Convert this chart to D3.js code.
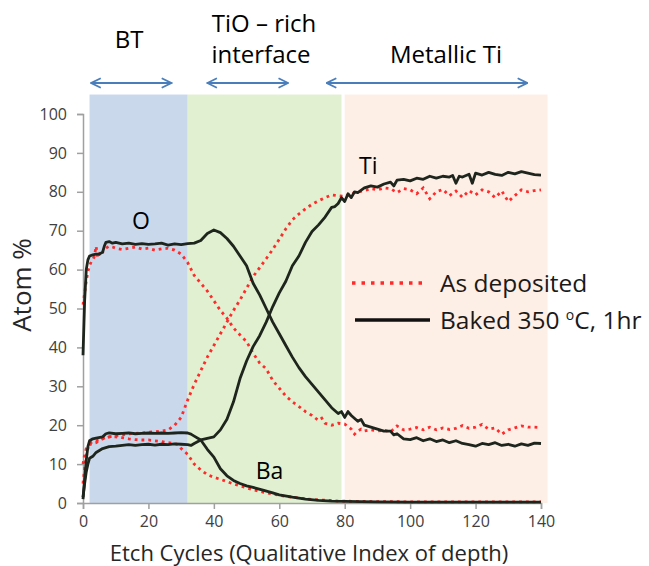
<!DOCTYPE html>
<html lang="en">
<head>
  <meta charset="UTF-8">
  <title>Atom % vs Etch Cycles</title>
  <script src="https://d3js.org/d3.v7.min.js"></script>
  <style>
    body { margin: 0; background: #fff; }
    text { font-family: "Open Sans", sans-serif; }
  </style>
</head>
<body>
<svg id="chart" width="649" height="566"></svg>

<script>
// depth regions (etch cycles) and their labels
const regions = [
  { from: 2, to: 32, color: "#cad8ec" },
  { from: 32, to: 79, color: "#e0f0d0" },
  { from: 80, to: 142, color: "#fdeee6" }
];
const regionArrows = [[2.5, 27], [38, 62.7], [74.5, 135.8]];

const xTicks = [0, 20, 40, 60, 80, 100, 120, 140];
const yTicks = [0, 10, 20, 30, 40, 50, 60, 70, 80, 90, 100];

// Baked 350 °C, 1hr (solid black)
const bakedO = [[0,38],[0.5,52],[1,60],[1.5,62.5],[2,63.5],[3,63.8],[4,64],[5,64],[6,64.5],[6.5,66],[7,67],[8,67.2],[9,66.8],[10,67],[12,66.6],[14,66.8],[16,66.5],[18,66.7],[20,66.5],[22,66.6],[24,66.8],[26,66.3],[28,66.6],[30,66.4],[32,66.7],[34,66.8],[36,67.5],[38,69.3],[40,70.2],[42,69.5],[44,68],[46,66],[48,63.5],[50,61],[52,56.5],[54,53.5],[56,50],[58,46.5],[60,43.5],[62,40.5],[64,37.5],[66,34.8],[68,32.5],[70,30.5],[72,28.5],[74,26.5],[76,24.5],[78,23],[79,23.5],[80,22],[81,23.5],[82,22.5],[84,21],[85,21.5],[86,20],[88,19.5],[90,19],[92,18.5],[94,18.5],[95,17.5],[96,17.8],[98,16.5],[100,16.3],[102,16.8],[104,16],[106,16.5],[108,15.8],[110,16.2],[112,15.5],[114,16],[116,15.3],[118,15],[120,14.6],[122,15.3],[124,15],[126,15.5],[128,14.8],[130,15.1],[132,14.6],[134,15.2],[136,14.8],[138,15.4],[140,15.3]];
const bakedTi = [[0,1.5],[0.5,5],[1,8],[1.5,10],[2,11.5],[3,12],[4,13],[6,14],[8,14.5],[10,14.6],[12,14.8],[14,15],[16,14.8],[18,15],[20,15.1],[22,14.9],[24,15.1],[26,15],[28,15.2],[30,15.1],[32,15],[33,14.8],[34,15.3],[36,16.2],[38,16.6],[40,17],[42,18.8],[44,21.5],[46,26],[48,32],[50,36.5],[52,40.2],[54,43],[56,46.5],[58,50.5],[60,54],[62,57],[64,61],[66,63.5],[68,67],[70,69.8],[72,71.5],[74,73.5],[76,76],[77,76.2],[78,77],[79,78.5],[80,77.5],[81,79.5],[82,78.5],[83,80],[84,79.8],[86,81],[88,81.5],[90,81.2],[92,82],[94,82.5],[95,81.5],[96,83],[98,83.2],[100,82.8],[102,83.5],[104,83.2],[106,84],[108,83.5],[110,84],[112,83.8],[113,84.2],[114,82.2],[115,84],[116,83.8],[118,84.5],[119,82.2],[120,84.8],[122,84.3],[124,85],[126,84.5],[128,84.2],[130,85],[132,84.6],[134,85.2],[136,84.8],[138,84.4],[140,84.3]];
const bakedBa = [[0,1],[0.5,6],[1,11],[1.5,14.5],[2,16],[3,16.5],[4,16.7],[6,17],[7,17.8],[8,18],[10,17.8],[12,17.9],[14,18],[16,17.8],[18,17.9],[20,18],[22,17.9],[24,18],[26,17.9],[28,18],[30,18.1],[32,18],[33,17.7],[34,17.2],[36,16.2],[38,13.8],[40,11.8],[42,8.8],[44,7],[46,5.8],[48,5],[50,4.4],[52,4],[55,3.3],[58,2.6],[60,2.1],[64,1.5],[68,1],[72,0.7],[76,0.5],[80,0.4],[90,0.3],[100,0.2],[120,0.2],[140,0.2]];

// As deposited (red dotted)
const depO = [[0,51],[0.5,54],[1,57],[1.5,59.5],[2,61],[2.5,62],[3,62.5],[3.5,63.5],[4,66],[4.5,63],[5,64],[5.5,63.5],[6,64.5],[7,65.5],[8,66],[9,65.8],[10,65.5],[12,65.2],[14,65.5],[16,65.8],[18,65.3],[20,65.5],[22,65],[24,65.3],[26,65.5],[28,65],[30,64],[32,61.8],[34,58.5],[36,56.5],[38,54.5],[40,52],[42,49.5],[44,47.5],[46,45],[48,43.2],[50,41.5],[52,38.5],[54,36],[56,34.5],[58,31.5],[60,29.5],[62,27.5],[64,26],[66,24.8],[68,23.5],[70,22.5],[72,21.2],[73,21.8],[74,20.5],[76,20],[78,20.5],[80,20.3],[82,19],[83,17.7],[84,18.5],[85,19],[86,18.5],[88,18.8],[90,18.5],[92,18.7],[94,18.3],[96,19.8],[98,18.8],[100,19],[102,19.4],[104,18.8],[106,19.5],[108,18.8],[110,19.3],[112,18.9],[114,19.2],[116,19.9],[118,19.2],[120,19.5],[122,20.2],[124,19],[126,19.3],[128,17.7],[130,18.8],[132,19.3],[134,19.8],[136,19.5],[138,19.5],[140,19.4]];
const depTi = [[0,5],[0.5,9],[1,12],[1.5,14],[2,15.3],[3,15.8],[4,16],[5,16.2],[6,16.6],[8,17],[10,17.3],[12,17.5],[14,17.8],[16,17.9],[18,18],[20,18.2],[22,18.3],[24,18.5],[26,18.8],[28,20],[30,22],[32,26.5],[34,30.5],[36,34],[38,37.5],[40,40.5],[42,43.5],[44,46.5],[46,49.5],[48,52.2],[50,55.2],[52,58.2],[54,60.5],[56,62.8],[58,65.2],[60,67.8],[62,70.5],[64,72.8],[66,74.3],[68,75.6],[70,76.8],[72,77.7],[74,78.5],[76,79.2],[78,79],[80,78.8],[82,79.5],[84,80],[86,80.3],[88,80.8],[90,80.5],[92,81],[94,80.8],[96,79.8],[98,80.8],[100,80.5],[102,79.5],[104,81],[106,78.2],[108,80],[110,80.6],[112,79],[114,80.2],[116,78.6],[118,80.3],[120,79.2],[122,80.5],[124,80],[126,78.5],[128,80.2],[130,77.5],[132,79],[134,80.5],[136,80],[138,80.3],[140,80.5]];
const depBa = [[0,10],[0.5,12.5],[1,14],[2,15],[3,15.3],[4,15.5],[6,16.5],[8,17],[10,17],[12,16.8],[14,16.5],[16,16.3],[18,16.2],[20,16.2],[22,16],[24,15.8],[26,15.5],[28,15.3],[29,15],[30,14],[32,12.5],[34,10],[36,8.5],[38,7.3],[40,6.6],[42,6.1],[44,5.5],[46,4.9],[48,4.4],[50,3.9],[52,3.4],[55,2.8],[58,2.3],[62,1.7],[66,1.3],[70,0.9],[74,0.7],[78,0.5],[85,0.4],[100,0.3],[120,0.3],[140,0.3]];

const svg = d3.select("#chart");
const x = d3.scaleLinear().domain([0, 140]).range([83, 541]);
const y = d3.scaleLinear().domain([0, 100]).range([503, 114]);

// shaded depth regions
svg.selectAll("rect.region")
  .data(regions)
  .join("rect")
  .attr("x", d => x(d.from))
  .attr("width", d => x(d.to) - x(d.from))
  .attr("y", y(105))
  .attr("height", y(0) - y(105))
  .attr("fill", d => d.color);

// axes
const axisColor = "#a0a0a0";
const yAxis = svg.append("g")
  .attr("transform", `translate(${x(0)},0)`)
  .call(d3.axisLeft(y).tickValues(yTicks).tickSize(6).tickPadding(10));
const xAxis = svg.append("g")
  .attr("transform", `translate(0,${y(0)})`)
  .call(d3.axisBottom(x).tickValues(xTicks).tickSize(6).tickPadding(7));
[yAxis, xAxis].forEach(a => {
  a.select(".domain").attr("stroke", axisColor).attr("stroke-width", 1.5);
  a.selectAll(".tick line").attr("stroke", axisColor).attr("stroke-width", 1.5);
  a.selectAll(".tick text")
    .attr("fill", "#404040")
    .style("font-size", "16px")
    .style("font-family", "'Open Sans', sans-serif");
});

const line = d3.line().x(d => x(d[0])).y(d => y(d[1]));

// as deposited
[depO, depTi, depBa].forEach(s => {
  svg.append("path")
    .datum(s)
    .attr("d", line)
    .attr("fill", "none")
    .attr("stroke", "#ff2a2a")
    .attr("stroke-width", 2.8)
    .attr("stroke-dasharray", "2.8,4");
});

// baked
[bakedO, bakedTi, bakedBa].forEach(s => {
  svg.append("path")
    .datum(s)
    .attr("d", line)
    .attr("fill", "none")
    .attr("stroke", "#1e251c")
    .attr("stroke-width", 2.8)
    .attr("stroke-linejoin", "round");
});

// element labels
svg.append("text").attr("x", x(17.7)).attr("y", y(70.4)).attr("text-anchor", "middle")
  .style("font-size", "23px").text("O");
svg.append("text").attr("x", x(87.2)).attr("y", y(84.6)).attr("text-anchor", "middle")
  .style("font-size", "23px").text("Ti");
svg.append("text").attr("x", x(57)).attr("y", y(6.2)).attr("text-anchor", "middle")
  .style("font-size", "23px").text("Ba");

// region arrows + titles
const arrowColor = "#4a7ebb";
svg.append("defs").append("marker")
  .attr("id", "head")
  .attr("viewBox", "0 0 10 10")
  .attr("refX", 9).attr("refY", 5)
  .attr("markerWidth", 6).attr("markerHeight", 6)
  .attr("orient", "auto-start-reverse")
  .attr("markerUnits", "strokeWidth")
  .append("path")
  .attr("d", "M1,1 L9,5 L1,9")
  .attr("fill", "none")
  .attr("stroke", arrowColor)
  .attr("stroke-width", 1.5);

regionArrows.forEach(a => {
  svg.append("line")
    .attr("x1", x(a[0])).attr("x2", x(a[1]))
    .attr("y1", 83).attr("y2", 83)
    .attr("stroke", arrowColor)
    .attr("stroke-width", 2)
    .attr("marker-start", "url(#head)")
    .attr("marker-end", "url(#head)");
});

svg.append("text").attr("x", 129).attr("y", 48).attr("text-anchor", "middle")
  .style("font-size", "24px").text("BT");
svg.append("text").attr("x", 264).attr("y", 32).attr("text-anchor", "middle")
  .style("font-size", "24px").text("TiO – rich");
svg.append("text").attr("x", 261).attr("y", 63).attr("text-anchor", "middle")
  .style("font-size", "24px").text("interface");
svg.append("text").attr("x", 446).attr("y", 63).attr("text-anchor", "middle")
  .style("font-size", "24px").text("Metallic Ti");

// axis titles
svg.append("text")
  .attr("transform", "translate(31,285) rotate(-90)")
  .attr("text-anchor", "middle")
  .style("font-size", "26px")
  .attr("fill", "#262626")
  .text("Atom %");
svg.append("text")
  .attr("x", 309).attr("y", 561)
  .attr("text-anchor", "middle")
  .style("font-size", "22px")
  .attr("fill", "#262626")
  .text("Etch Cycles (Qualitative Index of depth)");

// legend
const legend = svg.append("g");
legend.append("line")
  .attr("x1", 352).attr("x2", 424).attr("y1", 283).attr("y2", 283)
  .attr("stroke", "#ff2a2a").attr("stroke-width", 3.5)
  .attr("stroke-dasharray", "3.5,6");
legend.append("line")
  .attr("x1", 355).attr("x2", 430).attr("y1", 320).attr("y2", 320)
  .attr("stroke", "#111").attr("stroke-width", 3.5);
legend.append("text").attr("x", 440).attr("y", 292)
  .style("font-size", "24.5px").attr("fill", "#1a1a1a").text("As deposited");
const bk = legend.append("text").attr("x", 440).attr("y", 329)
  .style("font-size", "24.5px").attr("fill", "#1a1a1a");
bk.append("tspan").text("Baked 350 ");
bk.append("tspan").attr("dy", -9).style("font-size", "14px").text("o");
bk.append("tspan").attr("dy", 9).text("C, 1hr");
</script>
</body>
</html>
